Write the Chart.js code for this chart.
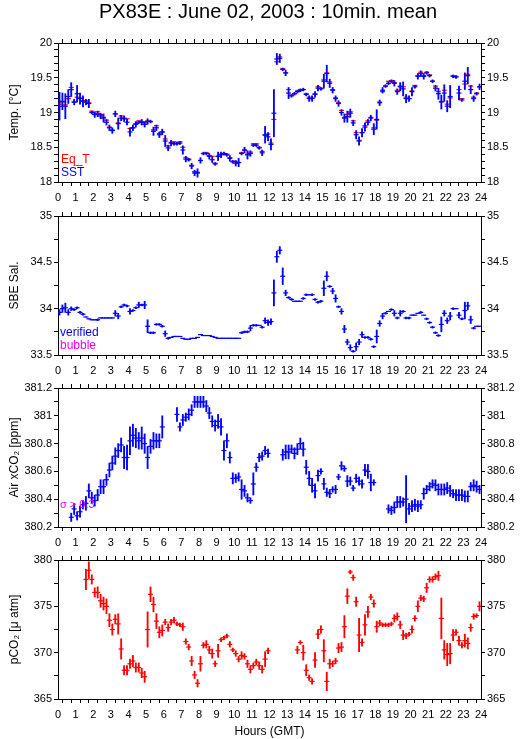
<!DOCTYPE html>
<html>
<head>
<meta charset="utf-8">
<script src="https://cdn.jsdelivr.net/npm/chart.js@4.4.0/dist/chart.umd.min.js"></script>
<style>
body{margin:0;background:#fff;}
#wrap{position:relative;width:529px;height:739px;overflow:hidden;}
canvas{position:absolute;left:0;}
</style>
</head>
<body>
<div id="wrap">
<canvas id="c1" width="529" height="215" style="top:0px"></canvas>
<canvas id="c2" width="529" height="215" style="top:173px"></canvas>
<canvas id="c3" width="529" height="215" style="top:345px"></canvas>
<canvas id="c4" width="529" height="222" style="top:517px"></canvas>
</div>
<script>
'use strict'
//////////////////
// Data (10 minute means, 144 bins per day)
//////////////////

// SST mean and half range
const sstMean = [
19.09,19.16,19.09,19.23,19.33,19.15, 19.27,19.20,19.16,19.15,19.13,19.00,
18.97,18.98,18.95,18.92,18.86,18.78, 18.74,18.98,18.84,18.92,18.91,18.86,
18.72,18.78,18.83,18.86,18.86,18.83, 18.87,18.87,18.73,18.78,18.68,18.72,
18.59,18.49,18.56,18.55,18.55,18.56, 18.46,18.33,18.32,18.23,18.13,18.13,
18.31,18.41,18.41,18.37,18.32,18.26, 18.37,18.39,18.41,18.39,18.34,18.29,
18.27,18.28,18.41,18.46,18.39,18.41, 18.53,18.53,18.49,18.42,18.68,18.65,
18.54,18.99,19.77,19.78,19.62,19.57, 19.28,19.24,19.27,19.30,19.32,19.33,
19.26,19.20,19.20,19.26,19.35,19.34, 19.45,19.56,19.42,19.32,19.20,19.13,
19.00,18.92,18.94,18.99,18.85,18.68, 18.59,18.71,18.79,18.86,18.92,18.76,
18.90,19.14,19.32,19.38,19.42,19.45, 19.42,19.30,19.37,19.34,19.20,19.20,
19.30,19.37,19.52,19.56,19.52,19.57, 19.53,19.45,19.35,19.27,19.15,19.28,
19.09,19.23,19.52,19.51,19.28,19.18, 19.45,19.53,19.33,19.20,19.27,19.37];
const sstRange = [
0.20,0.12,0.18,0.10,0.10,0.04, 0.12,0.08,0.08,0.04,0.06,0.02,
0.04,0.04,0.04,0.06,0.04,0.04, 0.04,0.04,0.08,0.04,0.04,0.04,
0.06,0.04,0.04,0.02,0.04,0.04, 0.04,0.02,0.06,0.04,0.04,0.04,
0.08,0.04,0.04,0.02,0.02,0.02, 0.06,0.04,0.02,0.04,0.04,0.06,
0.04,0.02,0.02,0.04,0.04,0.02, 0.06,0.04,0.02,0.02,0.04,0.02,
0.04,0.06,0.02,0.04,0.06,0.04, 0.02,0.02,0.02,0.04,0.12,0.06,
0.08,0.34,0.08,0.06,0.02,0.04, 0.08,0.02,0.02,0.02,0.02,0.02,
0.02,0.04,0.04,0.04,0.04,0.02, 0.10,0.12,0.06,0.04,0.04,0.04,
0.04,0.06,0.08,0.06,0.04,0.06, 0.06,0.06,0.06,0.04,0.04,0.08,
0.14,0.04,0.04,0.02,0.02,0.02, 0.04,0.04,0.06,0.10,0.06,0.04,
0.06,0.02,0.04,0.04,0.04,0.02, 0.02,0.02,0.04,0.08,0.10,0.12,
0.08,0.16,0.02,0.02,0.10,0.02, 0.12,0.12,0.06,0.04,0.02,0.04];
// equilibrator temperature mean
const eqtMean = [
19.12,19.15,19.11,19.20,19.36,19.15, 19.22,19.21,19.17,19.17,19.14,19.02,
18.98,19.01,18.97,18.93,18.89,18.79, 18.75,18.98,18.85,18.95,18.92,18.91,
18.77,18.78,18.84,18.88,18.87,18.85, 18.88,18.87,18.75,18.81,18.70,18.72,
18.62,18.52,18.57,18.58,18.56,18.58, 18.50,18.35,18.33,18.24,18.15,18.14,
18.31,18.41,18.42,18.38,18.37,18.27, 18.37,18.40,18.41,18.40,18.35,18.30,
18.29,18.28,18.42,18.46,18.40,18.43, 18.55,18.55,18.50,18.44,18.67,18.69,
18.56,18.90,19.73,19.80,19.63,19.57, 19.33,19.25,19.27,19.31,19.33,19.33,
19.27,19.22,19.21,19.27,19.37,19.35, 19.47,19.57,19.44,19.33,19.21,19.14,
19.03,18.93,18.97,19.01,18.88,18.71, 18.60,18.71,18.81,18.88,18.93,18.78,
18.89,19.15,19.30,19.38,19.45,19.46, 19.43,19.32,19.38,19.37,19.22,19.20,
19.31,19.39,19.53,19.58,19.53,19.58, 19.54,19.45,19.38,19.30,19.16,19.32,
19.12,19.21,19.53,19.52,19.33,19.20, 19.41,19.55,19.38,19.22,19.28,19.37];

// SBE salinity mean and half range
const salMean = [
33.96,34.00,34.01,33.96,34.00,33.99, 34.01,33.96,33.94,33.91,33.89,33.88,
33.88,33.88,33.90,33.90,33.90,33.90, 33.90,33.95,33.92,34.02,34.04,34.03,
33.97,33.98,34.01,34.04,34.04,34.04, 33.81,33.74,33.74,33.83,33.83,33.81,
33.73,33.68,33.69,33.70,33.70,33.70, 33.68,33.67,33.67,33.68,33.68,33.69,
33.72,33.71,33.71,33.71,33.70,33.69, 33.68,33.68,33.68,33.68,33.68,33.68,
33.68,33.68,33.74,33.75,33.75,33.79, 33.82,33.82,33.82,33.80,33.87,33.85,
33.86,34.17,34.56,34.63,34.35,34.17, 34.12,34.10,34.08,34.08,34.08,34.11,
34.15,34.15,34.15,34.10,34.07,34.08, 34.22,34.35,34.24,34.19,34.11,34.02,
33.97,33.78,33.64,33.58,33.54,33.59, 33.64,33.72,33.69,33.69,33.67,33.59,
33.70,33.84,33.92,33.95,33.97,33.99, 33.95,33.90,33.95,33.97,33.90,33.90,
33.93,33.93,33.95,33.96,33.93,33.89, 33.85,33.80,33.74,33.71,33.83,33.95,
33.87,33.92,34.00,34.00,33.93,33.89, 33.98,34.03,33.88,33.79,33.81,33.81];
const salRange = [
0.03,0.04,0.05,0.03,0.02,0.01, 0.01,0.01,0.01,0.00,0.00,0.00,
0.00,0.01,0.00,0.00,0.00,0.00, 0.00,0.03,0.03,0.01,0.01,0.01,
0.03,0.01,0.01,0.03,0.01,0.04, 0.07,0.01,0.01,0.01,0.01,0.01,
0.03,0.01,0.00,0.00,0.00,0.00, 0.00,0.00,0.00,0.00,0.00,0.00,
0.00,0.00,0.00,0.00,0.00,0.00, 0.00,0.00,0.00,0.00,0.00,0.00,
0.00,0.00,0.01,0.01,0.01,0.03, 0.01,0.01,0.00,0.01,0.03,0.03,
0.03,0.14,0.06,0.04,0.09,0.03, 0.01,0.01,0.00,0.00,0.00,0.01,
0.01,0.00,0.01,0.01,0.01,0.01, 0.08,0.05,0.01,0.03,0.04,0.01,
0.03,0.04,0.03,0.03,0.01,0.04, 0.03,0.03,0.01,0.01,0.01,0.01,
0.07,0.03,0.03,0.01,0.00,0.01, 0.03,0.01,0.03,0.01,0.01,0.01,
0.00,0.00,0.00,0.01,0.00,0.01, 0.01,0.01,0.01,0.01,0.08,0.03,
0.03,0.04,0.01,0.00,0.03,0.01, 0.09,0.04,0.04,0.01,0.00,0.00];

// Air xCO2 mean and half range (null = no data)
const xco2Mean = [
null,null,null,null,380.27,380.33, 380.28,380.31,380.36,380.37,380.46,380.41,
380.39,380.43,380.49,380.49,380.54,380.61, 380.66,380.71,380.75,380.79,380.70,380.70,
380.82,380.86,380.84,380.82,380.84,380.80, 380.70,380.78,380.82,380.82,380.82,380.92,
null,null,null,null,381.01,380.92, 380.97,380.99,381.01,381.04,381.10,381.10,
381.10,381.10,381.07,381.02,380.96,380.93, 380.96,380.92,380.75,380.82,380.70,380.55,
380.55,380.56,380.47,380.46,380.41,380.39, 380.51,380.63,380.70,380.71,380.75,380.73,
null,null,null,null,380.72,380.74, 380.74,380.76,380.73,380.76,380.80,380.76,
380.63,380.55,380.50,380.46,380.57,380.60, 380.51,380.45,380.44,380.47,380.47,380.56,
380.64,380.62,380.53,380.53,380.48,380.55, 380.53,380.51,380.61,380.60,380.52,380.52,
null,null,null,null,380.33,380.32, 380.34,380.38,380.38,380.38,380.40,380.33,
380.35,380.36,380.35,380.36,380.44,380.47, 380.49,380.51,380.50,380.47,380.47,380.47,
380.48,380.46,380.44,380.43,380.43,380.43, 380.42,380.42,380.49,380.50,380.49,380.47];
const xco2Range = [
null,null,null,null,0.03,0.04, 0.03,0.04,0.03,0.05,0.05,0.04,
0.04,0.04,0.05,0.05,0.04,0.05, 0.05,0.06,0.05,0.05,0.08,0.09,
0.10,0.08,0.07,0.06,0.08,0.07, 0.08,0.05,0.06,0.05,0.05,0.08,
null,null,null,null,0.05,0.03, 0.04,0.03,0.04,0.04,0.04,0.04,
0.04,0.04,0.04,0.04,0.04,0.04, 0.05,0.06,0.07,0.05,0.04,0.04,
0.03,0.03,0.07,0.04,0.03,0.02, 0.08,0.03,0.03,0.03,0.03,0.03,
null,null,null,null,0.04,0.05, 0.05,0.03,0.04,0.04,0.04,0.05,
0.05,0.05,0.05,0.05,0.04,0.02, 0.04,0.03,0.03,0.02,0.03,0.02,
0.03,0.02,0.04,0.03,0.02,0.03, 0.03,0.03,0.04,0.05,0.06,0.02,
null,null,null,null,0.03,0.03, 0.04,0.04,0.04,0.03,0.17,0.04,
0.04,0.04,0.04,0.03,0.04,0.03, 0.03,0.03,0.04,0.04,0.04,0.04,
0.04,0.04,0.03,0.04,0.04,0.04, 0.04,0.04,0.03,0.04,0.04,0.03];

// pCO2 mean and half range (null = no data)
const pco2Mean = [
null,null,null,null,null,null, null,null,null,377.9,378.9,377.9,
376.5,376.5,375.6,375.3,375.0,373.5, 372.5,373.6,373.1,370.4,368.1,368.1,
368.8,369.1,368.4,368.4,367.8,367.4, 372.5,376.3,375.2,373.4,372.2,372.4,
373.3,372.7,373.3,373.5,373.1,373.0, 372.8,371.2,370.6,369.1,367.6,366.7,
368.8,370.8,370.9,370.3,369.9,368.8, 370.2,371.4,371.6,371.8,370.9,370.3,
369.9,369.3,369.7,369.6,368.8,368.2, 368.6,369.0,368.6,368.2,369.3,370.2,
null,null,null,null,null,null, null,null,null,370.3,371.1,370.0,
368.1,367.3,366.9,369.2,372.0,372.5, 370.2,366.9,368.8,368.8,369.1,370.5,
370.6,372.8,376.1,378.7,378.1,375.5, 371.9,371.1,373.0,374.4,376.0,375.3,
372.8,373.2,373.0,373.0,373.0,373.1, 373.7,373.9,373.0,371.9,371.8,372.0,
372.5,373.7,375.0,375.9,375.8,377.0, 377.9,377.9,378.2,378.3,373.7,370.3,
369.8,369.9,371.9,372.2,371.3,370.8, 371.3,371.0,372.7,373.9,374.0,375.0];
const pco2Range = [
null,null,null,null,null,null, null,null,null,1.1,0.9,0.5,
0.5,0.6,0.7,0.7,0.8,0.7, 0.6,0.5,1.1,1.1,0.5,0.5,
0.5,0.6,0.5,0.5,0.5,0.6, 1.9,0.8,0.8,0.8,0.6,0.6,
0.3,0.4,0.3,0.3,0.2,0.2, 0.4,0.3,0.3,0.5,0.4,0.4,
0.8,0.3,0.4,0.4,0.5,0.3, 0.7,0.2,0.2,0.2,0.3,0.2,
0.3,0.3,0.4,0.3,0.4,0.4, 0.3,0.3,0.4,0.4,0.8,0.3,
null,null,null,null,null,null, null,null,null,0.4,0.2,0.8,
0.6,0.3,0.3,0.8,0.5,0.4, 1.2,1.0,0.5,0.3,0.3,0.5,
0.5,1.2,0.8,0.2,0.3,0.5, 1.8,0.4,1.1,0.6,0.3,0.4,
0.6,0.3,0.2,0.2,0.2,0.2, 0.4,0.4,0.4,0.5,0.3,0.2,
0.4,0.3,0.6,0.3,0.3,0.5, 0.3,0.3,0.3,0.5,2.2,1.0,
1.2,1.1,0.6,0.3,0.5,0.3, 0.7,0.6,0.4,0.3,0.2,0.5];

// bin centres in hours
const binHours = [];
for (let i = 0; i < 144; i++){
    binHours.push((i + 0.5) / 6);
}

const BLUE = '#0000ff';
const RED = '#ff0000';
const MAGENTA = '#ff00ff';
const FONT = "'Liberation Sans', Arial, Helvetica, sans-serif";

Chart.defaults.font.family = FONT;
Chart.defaults.color = '#000';

/////////////////////////
// Helpers
/////////////////////////
function rangePoints(means, ranges){
    const pts = [];
    for (let i = 0; i < means.length; i++){
        if (means[i] === null) continue;
        pts.push({x: binHours[i], y: [means[i] - ranges[i], means[i] + ranges[i]]});
    }
    return pts;
}

function meanPoints(means){
    const pts = [];
    for (let i = 0; i < means.length; i++){
        if (means[i] === null) continue;
        pts.push({x: binHours[i], y: means[i]});
    }
    return pts;
}

function barSet(means, ranges, color, order){
    return {
        type: 'bar',
        data: rangePoints(means, ranges),
        backgroundColor: color,
        borderWidth: 0,
        barThickness: 1.2,
        grouped: false,
        order: order
    };
}

function dashSet(means, color, order){
    return {
        type: 'line',
        data: meanPoints(means),
        showLine: false,
        pointStyle: 'line',
        pointRadius: 2.5,
        pointBorderWidth: 1.2,
        pointBorderColor: color,
        pointBackgroundColor: color,
        order: order
    };
}

// only label the major steps, the rest are minor ticks
function majorLabel(step, digits){
    return function(value){
        const k = value / step;
        if (Math.abs(k - Math.round(k)) < 1e-6){
            return String(+value.toFixed(digits));
        }
        return '';
    };
}

const tickFont = {size: 11};
const axisGrid = {drawOnChartArea: false, drawTicks: true, tickLength: 4, color: '#000'};
const axisBorder = {display: true, color: '#000', width: 1};

function xAxes(bottomHeight, withTitle){
    return {
        x: {
            type: 'linear', position: 'bottom', min: 0, max: 24, offset: false,
            ticks: {stepSize: 0.5, autoSkip: false, maxRotation: 0, padding: 5, font: tickFont, color: '#000',
                    callback: majorLabel(1, 0)},
            grid: axisGrid, border: axisBorder,
            title: {display: withTitle, text: 'Hours (GMT)', font: {size: 12}, color: '#000', padding: {top: 0, bottom: 0}},
            afterFit: function(scale){ scale.height = bottomHeight; }
        },
        x2: {
            type: 'linear', axis: 'x', position: 'top', min: 0, max: 24, offset: false,
            ticks: {stepSize: 0.5, autoSkip: false, maxRotation: 0, font: tickFont, callback: function(){ return ''; }},
            grid: axisGrid, border: axisBorder,
            afterFit: function(scale){ scale.height = 43; }
        }
    };
}

function yAxes(min, max, minor, major, digits, label){
    const ticks = {stepSize: minor, autoSkip: false, padding: 2, font: tickFont, color: '#000',
                   callback: majorLabel(major, digits)};
    return {
        y: {
            type: 'linear', position: 'left', min: min, max: max,
            ticks: ticks, grid: axisGrid, border: axisBorder,
            title: {display: true, text: label, font: {size: 12}, color: '#000', padding: {top: 7, bottom: 0}},
            afterFit: function(scale){ scale.width = 58; }
        },
        y2: {
            type: 'linear', axis: 'y', position: 'right', min: min, max: max,
            ticks: ticks, grid: axisGrid, border: axisBorder,
            afterFit: function(scale){ scale.width = 48; }
        }
    };
}

// plain text notes inside the panels
function notesPlugin(notes){
    return {
        id: 'notes',
        afterDraw(chart){
            const ctx = chart.ctx;
            const area = chart.chartArea;
            ctx.save();
            for (let n of notes){
                ctx.font = n.font;
                ctx.fillStyle = n.color;
                ctx.textAlign = n.align || 'left';
                ctx.textBaseline = 'alphabetic';
                if (n.page){
                    ctx.fillText(n.text, n.x, n.y);
                } else {
                    ctx.fillText(n.text, area.left + n.x, area.top + n.y);
                }
            }
            ctx.restore();
        }
    };
}

function makePanel(id, datasets, yScales, bottomHeight, withTitle, notes){
    const scales = Object.assign(xAxes(bottomHeight, withTitle), yScales);
    return new Chart(document.getElementById(id), {
        type: 'bar',
        data: {datasets: datasets},
        options: {
            responsive: false,
            animation: false,
            events: [],
            layout: {padding: 0},
            plugins: {legend: {display: false}, tooltip: {enabled: false}},
            scales: scales
        },
        plugins: [notesPlugin(notes)]
    });
}

/////////////////////////
// Panels
/////////////////////////
makePanel('c1',
    [barSet(sstMean, sstRange, BLUE, 0), dashSet(sstMean, BLUE, 1), dashSet(eqtMean, RED, 2)],
    yAxes(18, 20, 0.1, 0.5, 1, 'Temp. [°C]'), 33, false,
    [{text: 'PX83E : June 02, 2003 : 10min. mean', x: 268, y: 18, page: true, align: 'center', font: '20px ' + FONT, color: '#000'},
     {text: 'Eq_T', x: 3, y: 120, font: '12px ' + FONT, color: RED},
     {text: 'SST', x: 3, y: 133, font: '12px ' + FONT, color: BLUE}]);

makePanel('c2',
    [barSet(salMean, salRange, BLUE, 0), dashSet(salMean, BLUE, 1)],
    yAxes(33.5, 35, 0.25, 0.5, 1, 'SBE Sal.'), 33, false,
    [{text: 'verified', x: 2, y: 120, font: '12px ' + FONT, color: BLUE},
     {text: 'bubble', x: 2, y: 133, font: '12px ' + FONT, color: MAGENTA}]);

makePanel('c3',
    [barSet(xco2Mean, xco2Range, BLUE, 0), dashSet(xco2Mean, BLUE, 1)],
    yAxes(380.2, 381.2, 0.1, 0.2, 1, 'Air xCO₂ [ppm]'), 33, false,
    [{text: 'σ > 0.3', x: 2, y: 120, font: '11px ' + FONT, color: MAGENTA}]);

makePanel('c4',
    [barSet(pco2Mean, pco2Range, RED, 0), dashSet(pco2Mean, RED, 1)],
    yAxes(365, 380, 2.5, 5, 0, 'pCO₂ [μ atm]'), 40, true, []);
</script>
</body>
</html>
